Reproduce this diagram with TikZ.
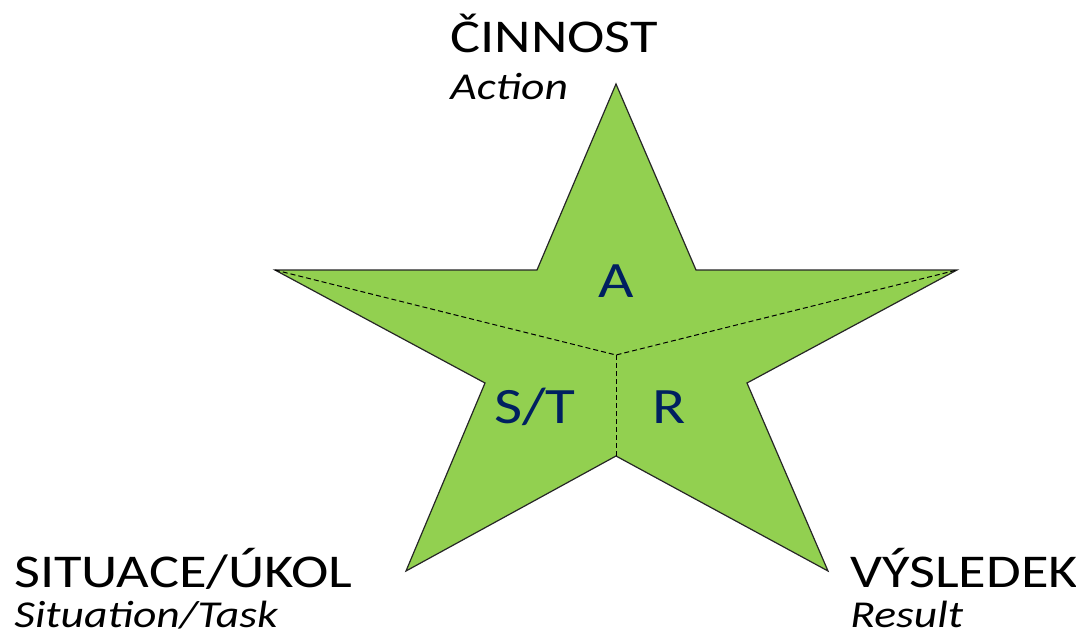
\documentclass[tikz,border=0pt]{standalone}
\usepackage{fontspec}
\setmainfont{Carlito}[FakeStretch=1.2]
\usepackage{tikz}
\definecolor{stargreen}{RGB}{146,208,80}
\definecolor{labelblue}{RGB}{0,32,96}
\tikzset{
  heading/.style={anchor=base west, inner sep=0pt, font=\fontsize{23.5}{28}\selectfont},
  subheading/.style={anchor=base west, inner sep=0pt, font=\fontsize{19}{23}\selectfont\itshape},
  part/.style={anchor=base, inner sep=0pt, text=labelblue, font=\fontsize{25.5}{30}\selectfont}
}

\begin{document}
\begin{tikzpicture}[x=0.5pt, y=-0.5pt]
\useasboundingbox (0,0) rectangle (1076,642);
%star points
\coordinate (top) at (616,84);
\coordinate (innertr) at (696,270);
\coordinate (right) at (957,270);
\coordinate (innerr) at (747,383);
\coordinate (botr) at (828,571);
\coordinate (innerb) at (616,456);
\coordinate (botl) at (406,571);
\coordinate (innerl) at (485,383);
\coordinate (left) at (275,270);
\coordinate (innertl) at (537,270);
\coordinate (centre) at (616,355);
%draw star
\filldraw[fill=stargreen, draw=black!85, line width=0.6pt, line join=miter]
   (top) -- (innertr) -- (right) -- (innerr) -- (botr) -- (innerb)
   -- (botl) -- (innerl) -- (left) -- (innertl) -- cycle;
%dashed dividers
\draw[dashed, dash pattern=on 2.5pt off 1.5pt, line width=0.5pt] (left) -- (centre) -- (right);
\draw[dashed, dash pattern=on 2.5pt off 1.5pt, line width=0.5pt] (centre) -- (innerb);
%parts of the star
\node[part] (a) at (616,297) {A};
\node[part] (st) at (535,423) {S/T};
\node[part] (r) at (669,423) {R};
%labels at the points
\node[heading] (cinnost) at (450,53) {ČINNOST};
\node[subheading] (action) at (450,100) {Action};
\node[heading] (situace) at (14,587) {SITUACE/ÚKOL};
\node[subheading] (situation) at (14,627) {Situation/Task};
\node[heading] (vysledek) at (850,587) {VÝSLEDEK};
\node[subheading] (result) at (850,627) {Result};
\end{tikzpicture}
\end{document}
